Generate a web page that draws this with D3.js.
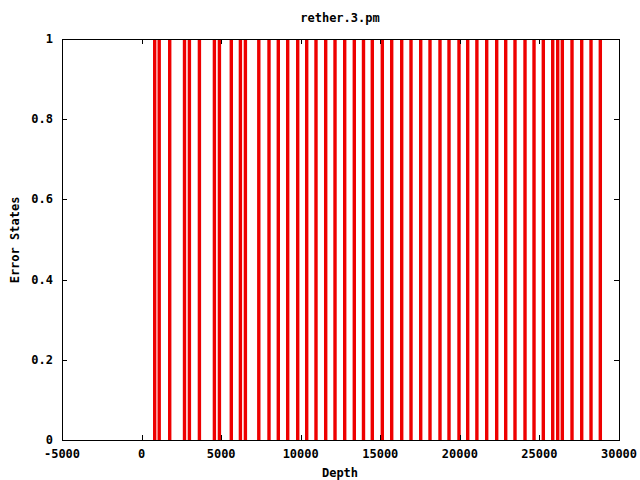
<!DOCTYPE html>
<html><head><meta charset="utf-8">
<script src="https://cdn.jsdelivr.net/npm/d3@7"></script>
<style>body{margin:0;background:#fff}svg{display:block}text{font-family:"DejaVu Sans Mono",monospace;font-weight:bold;font-size:12px;fill:#000}</style>
</head><body>
<script>
const title = "rether.3.pm";
const xLabel = "Depth";
const yLabel = "Error States";
const xTicks = [-5000, 0, 5000, 10000, 15000, 20000, 25000, 30000];
const yTicks = [0, 0.2, 0.4, 0.6, 0.8, 1];
const depths = [825, 1108, 1768, 2698, 3005, 3634, 4576, 4891, 5638, 6210, 6524, 7366,
  8007, 8592, 9182, 9811, 10376, 10960, 11570, 12155, 12764, 13367, 13945, 14498,
  15127, 15717, 16346, 16930, 17540, 18124, 18752, 19318, 19946, 20493, 21070, 21687,
  22315, 22881, 23465, 24094, 24660, 25244, 25835, 26149, 26438, 27047, 27657, 28241, 28826];
const errorStates = depths.map(() => 1);

const W = 640, H = 480;
const m = {l: 62, r: 619, t: 39, b: 440};
const svg = d3.select("body").append("svg").attr("width", W).attr("height", H);
const x = d3.scaleLinear().domain([-5000, 30000]).range([m.l, m.r]);
const y = d3.scaleLinear().domain([0, 1]).range([m.b, m.t]);

// impulses
svg.append("g").selectAll("line").data(depths).join("line")
  .attr("x1", d => x(d)).attr("x2", d => x(d))
  .attr("y1", y(0)).attr("y2", (d, i) => y(errorStates[i]))
  .attr("stroke", "#ee0000").attr("stroke-width", 3.4);

// border
svg.append("rect").attr("x", m.l + 0.5).attr("y", m.t + 0.5)
  .attr("width", m.r - m.l).attr("height", m.b - m.t)
  .attr("fill", "none").attr("stroke", "#000").attr("stroke-width", 1);

const tl = 5;
// x ticks (inward, mirrored)
const gx = svg.append("g");
xTicks.forEach(t => {
  const px = Math.round(x(t)) + 0.5;
  gx.append("line").attr("x1", px).attr("x2", px).attr("y1", m.b).attr("y2", m.b - tl).attr("stroke", "#000");
  gx.append("line").attr("x1", px).attr("x2", px).attr("y1", m.t).attr("y2", m.t + tl).attr("stroke", "#000");
  gx.append("text").attr("x", x(t)).attr("y", 458).attr("text-anchor", "middle").text(d3.format("d")(t).replace("−", "-"));
});
// y ticks
const gy = svg.append("g");
yTicks.forEach(t => {
  const py = Math.round(y(t)) + 0.5;
  gy.append("line").attr("x1", m.l).attr("x2", m.l + tl).attr("y1", py).attr("y2", py).attr("stroke", "#000");
  gy.append("line").attr("x1", m.r).attr("x2", m.r - tl).attr("y1", py).attr("y2", py).attr("stroke", "#000");
  gy.append("text").attr("x", 53).attr("y", y(t) + 4).attr("text-anchor", "end").text(t === 0 || t === 1 ? String(t) : String(t));
});

svg.append("text").attr("x", 340).attr("y", 22).attr("text-anchor", "middle").text(title);
svg.append("text").attr("x", 340).attr("y", 477).attr("text-anchor", "middle").text(xLabel);
svg.append("text").attr("transform", "translate(19,240) rotate(-90)").attr("text-anchor", "middle").text(yLabel);
</script>
</body></html>
